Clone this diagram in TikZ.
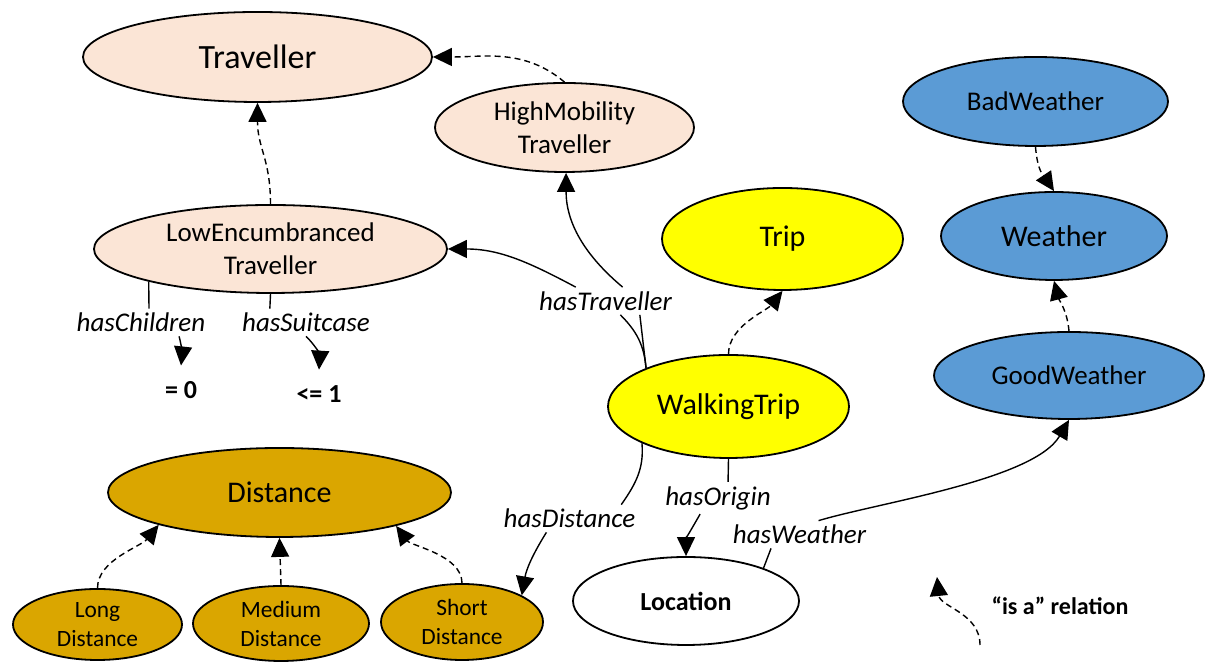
\documentclass[tikz,border=0pt]{standalone}
\usepackage{fontspec}
\setmainfont{Carlito}
\usetikzlibrary{shapes.geometric,arrows.meta}
\definecolor{peach}{HTML}{FBE5D6}
\definecolor{tripyellow}{HTML}{FFFF00}
\definecolor{weatherblue}{HTML}{5B9BD5}
\definecolor{distgold}{HTML}{DAA600}

\begin{document}
\begin{tikzpicture}[x=0.5pt,y=0.5pt,>={Triangle[length=9.5pt,width=9pt]}]
  \tikzstyle{class}=[ellipse,draw,line width=0.9pt,inner sep=0pt,align=center]
  \tikzstyle{bigtext}=[font=\fontsize{15}{18}\selectfont]
  \tikzstyle{midtext}=[font=\fontsize{13.5}{16.5}\selectfont]
  \tikzstyle{smalltext}=[font=\fontsize{11.7}{14.5}\selectfont]
  \tikzstyle{prop}=[inner sep=2pt,font=\fontsize{13.5}{16}\selectfont\itshape]
  \tikzstyle{valnode}=[inner sep=8pt,font=\fontsize{13}{16}\selectfont\bfseries]
  \tikzstyle{link}=[line width=0.7pt]
  \tikzstyle{rel}=[link,->]
  \tikzstyle{isa}=[rel,dash pattern=on 3pt off 2pt]

  \useasboundingbox (0,0) rectangle (1205,662);

  \node[class,fill=peach,minimum width=174.5pt,minimum height=45pt,font=\fontsize{17}{20}\selectfont] (traveller) at (257.5,605) {Traveller};
  \node[class,fill=peach,midtext,minimum width=129.5pt,minimum height=44.5pt] (highmob) at (564.5,534.5) {HighMobility\\Traveller};
  \node[class,fill=peach,midtext,minimum width=176.5pt,minimum height=44pt] (lowenc) at (270.5,413) {LowEncumbranced\\Traveller};
  \node[class,fill=tripyellow,bigtext,minimum width=120.5pt,minimum height=51pt] (trip) at (782.5,423) {Trip};
  \node[class,fill=tripyellow,bigtext,minimum width=120.5pt,minimum height=51.5pt] (walking) at (728.5,255.5) {WalkingTrip};
  \node[class,fill=weatherblue,midtext,minimum width=132.5pt,minimum height=44.5pt] (badw) at (1035.5,560.5) {BadWeather};
  \node[class,fill=weatherblue,bigtext,minimum width=113pt,minimum height=44pt] (weather) at (1054,426) {Weather};
  \node[class,fill=weatherblue,midtext,minimum width=135pt,minimum height=43.5pt] (goodw) at (1069,286.5) {GoodWeather};
  \node[class,fill=distgold,bigtext,minimum width=171.5pt,minimum height=44.5pt] (distance) at (279.5,169.5) {Distance};
  \node[class,fill=distgold,smalltext,minimum width=84.5pt,minimum height=35.5pt] (longd) at (97.5,37.5) {Long\\Distance};
  \node[class,fill=distgold,smalltext,minimum width=88pt,minimum height=37.5pt] (mediumd) at (281,38.5) {Medium\\Distance};
  \node[class,fill=distgold,smalltext,minimum width=81pt,minimum height=38pt] (shortd) at (462,40) {Short\\Distance};
  \node[class,fill=white,minimum width=113pt,minimum height=44pt,font=\fontsize{13}{16}\selectfont\bfseries] (location) at (686,61) {Location};

  \node[prop] (haschildren) at (141,339.5) {hasChildren};
  \node[prop] (hassuitcase) at (306,339.5) {hasSuitcase};
  \node[valnode] (eqzero) at (181,271.5) {= 0};
  \node[valnode] (leqone) at (319,267.5) {<= 1};
  \node[prop] (hastraveller) at (605.5,361) {hasTraveller};
  \node[prop] (hasdistance) at (569.5,143.5) {hasDistance};
  \node[prop] (hasorigin) at (718,164) {hasOrigin};
  \node[prop] (hasweather) at (799.5,127.5) {hasWeather};
  \node[font=\fontsize{12}{14}\selectfont\bfseries] (islegend) at (1060,56.5) {“is a” relation};
  \coordinate (legfrom) at (980,17);
  \coordinate (legto) at (937,85);

  \draw[isa] (lowenc.north) .. controls +(0,45) and +(0,-45) .. (traveller.south);
  \draw[isa] (highmob.north) to[out=140,in=0] (traveller.east);
  \draw[link] (lowenc.195) -- (haschildren.60);
  \draw[rel] (haschildren.-20) to[bend left=10] (eqzero.north);
  \draw[link] (lowenc.south) -- (hassuitcase.159);
  \draw[rel] (hassuitcase.south) to[bend left=25] (leqone.north);

  \draw[link] (walking.155) to[out=95,in=-45] (hastraveller.-43);
  \draw[link] (walking.155) -- (hastraveller.-22);
  \draw[rel] (hastraveller.155) to[out=152,in=0] (lowenc.east);
  \draw[rel] (hastraveller.39) to[out=140,in=-90] (highmob.-88);
  \draw[isa] (walking.north) .. controls +(0,28) and +(-16,-20) .. (trip.south);

  \draw[link] (walking.203) to[out=-85,in=55] (hasdistance.15);
  \draw[rel] (hasdistance.211) to[out=-122,in=80] (shortd.24);
  \draw[link] (walking.south) -- (hasorigin.58);
  \draw[rel] (hasorigin.222) to[out=-120,in=90] (location.north);
  \draw[link] (location.23) -- (hasweather.206);
  \draw[rel] (hasweather.36) .. controls +(60,18) and +(-35,-60) .. (goodw.south);

  \draw[isa] (goodw.north) to[out=95,in=-75] (weather.south);
  \draw[isa] (badw.south) .. controls +(2,-25) and +(-10,15) .. (weather.north);
  \draw[isa] (longd.north) .. controls +(0,28) and +(-18,-22) .. (distance.195);
  \draw[isa] (mediumd.north) -- (distance.south);
  \draw[isa] (shortd.north) .. controls +(0,28) and +(15,-20) .. (distance.-16);
  \draw[isa] (legfrom) .. controls +(0,32) and +(3,-30) .. (legto);
\end{tikzpicture}
\end{document}
